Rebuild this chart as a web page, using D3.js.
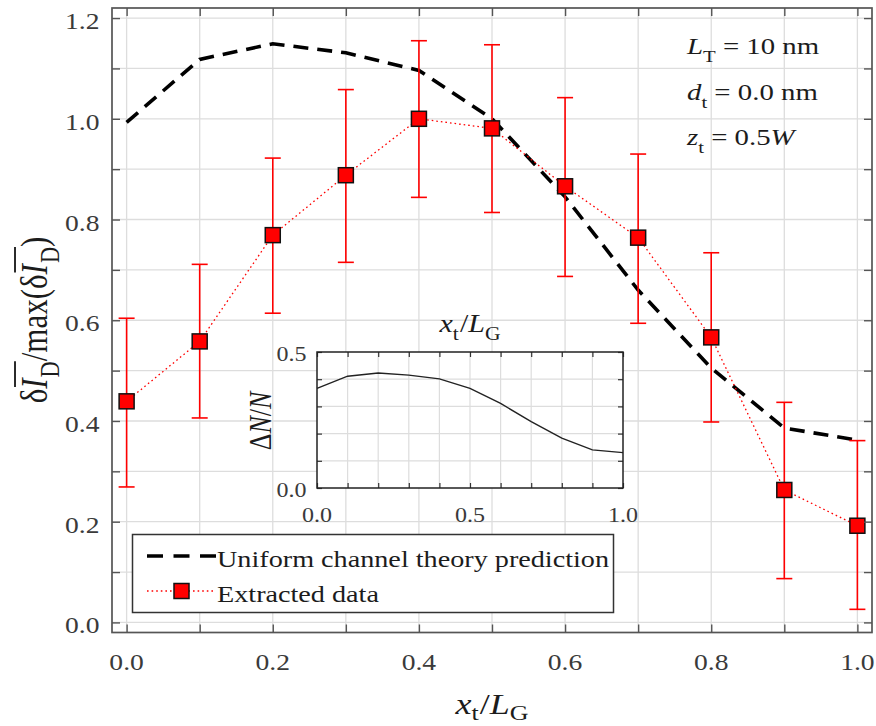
<!DOCTYPE html>
<html>
<head>
<meta charset="utf-8">
<script src="https://cdn.jsdelivr.net/npm/d3@7"></script>
<style>
  html, body { margin: 0; padding: 0; background: #ffffff; }
  svg { display: block; font-family: "Liberation Serif", "Times New Roman", serif; }
</style>
</head>
<body>
<svg id="chart" width="876" height="726"></svg>
<script>
// ---- data ----
const xPositions      = [0.0, 0.1, 0.2, 0.3, 0.4, 0.5, 0.6, 0.7, 0.8, 0.9, 1.0];
const theoryValues    = [0.993, 1.118, 1.149, 1.131, 1.096, 1.000, 0.845, 0.660, 0.505, 0.386, 0.362];
const extractedValues = [0.439, 0.558, 0.769, 0.888, 1.000, 0.981, 0.866, 0.764, 0.566, 0.263, 0.192];
const extractedUpper  = [0.604, 0.711, 0.922, 1.058, 1.155, 1.147, 1.042, 0.930, 0.734, 0.437, 0.361];
const extractedLower  = [0.269, 0.406, 0.614, 0.715, 0.844, 0.814, 0.687, 0.594, 0.398, 0.087, 0.026];
const deltaNValues    = [0.366, 0.411, 0.423, 0.415, 0.401, 0.366, 0.311, 0.244, 0.183, 0.140, 0.130];

const xTickLabels      = ["0.0", "0.2", "0.4", "0.6", "0.8", "1.0"];
const yTickLabels      = ["0.0", "0.2", "0.4", "0.6", "0.8", "1.0", "1.2"];
const insetXTickLabels = ["0.0", "0.5", "1.0"];
const insetYTickLabels = ["0.0", "0.5"];
const legendLabels     = ["Uniform channel theory prediction", "Extracted data"];

// ---- setup ----
const svg = d3.select("#chart");
const SX = 1.2;               // horizontal stretch applied to all lettering
const TXT = "#1c1c1c";
const TICKTXT = "#3a3a3a";
const FRAME = "#555555";
const GRID = "#dddddd";
const RED = "#ff0000";

const x = d3.scaleLinear().domain([-0.02, 1.02]).range([112, 872]);
const y = d3.scaleLinear().domain([-0.02, 1.22]).range([632.5, 8]);

const xMinor = d3.range(0, 11).map(i => i / 10);
const yMinor = d3.range(0, 13).map(i => i / 10);

function plainLabel(parent, px, py, str, size, anchor, fill) {
  return parent.append("text")
    .attr("transform", `translate(${px},${py}) scale(${SX},1)`)
    .attr("text-anchor", anchor)
    .attr("font-size", size)
    .attr("fill", fill || TICKTXT)
    .text(str);
}

// Lays out a run of text pieces (italic / subscript / overbar) left to right.
function richLabel(parent, px, py, parts, size, anchor, rotate, subShift) {
  const outer = parent.append("g")
    .attr("transform", `translate(${px},${py}) scale(${SX},1)` + (rotate ? " rotate(-90)" : ""));
  const g = outer.append("g");
  const shiftK = subShift == null ? 0.32 : subShift;
  let cx = 0;
  const spans = [];
  parts.forEach(p => {
    const fs = p.sub ? size * 0.72 : size;
    const dy = p.sub ? size * shiftK : 0;
    const t = g.append("text")
      .attr("x", cx).attr("y", dy)
      .attr("font-size", fs)
      .attr("font-style", p.it ? "italic" : "normal")
      .attr("fill", TXT)
      .text(p.t);
    const w = t.node().getComputedTextLength();
    spans.push({ x0: cx, x1: cx + w, bar: p.bar });
    cx += w + (p.gap || 0);
  });
  const ids = [...new Set(spans.filter(s => s.bar).map(s => s.bar))];
  ids.forEach(id => {
    const run = spans.filter(s => s.bar === id);
    g.append("line")
      .attr("x1", run[0].x0 + size * 0.06).attr("x2", run[run.length - 1].x1)
      .attr("y1", -size * 0.86).attr("y2", -size * 0.86)
      .attr("stroke", TXT).attr("stroke-width", size * 0.05);
  });
  const shift = anchor === "middle" ? -cx / 2 : anchor === "end" ? -cx : 0;
  g.attr("transform", `translate(${shift},0)`);
  return outer;
}

// ---- grid ----
const grid = svg.append("g");
grid.selectAll(".gx").data(xMinor).join("line")
  .attr("x1", d => x(d)).attr("x2", d => x(d))
  .attr("y1", y.range()[1]).attr("y2", y.range()[0])
  .attr("stroke", GRID).attr("stroke-width", 1.3);
grid.selectAll(".gy").data(yMinor).join("line")
  .attr("x1", x.range()[0]).attr("x2", x.range()[1])
  .attr("y1", d => y(d)).attr("y2", d => y(d))
  .attr("stroke", GRID).attr("stroke-width", 1.3);

// ---- theory curve (dashed) ----
const theoryLine = d3.line().x((d, i) => x(xPositions[i])).y(d => y(d));
svg.append("path")
  .datum(theoryValues)
  .attr("d", theoryLine)
  .attr("fill", "none")
  .attr("stroke", "#000")
  .attr("stroke-width", 3.6)
  .attr("stroke-dasharray", "15,9");

// ---- extracted data: dotted connector, error bars, squares ----
svg.append("path")
  .datum(extractedValues)
  .attr("d", theoryLine)
  .attr("fill", "none")
  .attr("stroke", RED)
  .attr("stroke-width", 1.3)
  .attr("stroke-dasharray", "1.6,3");

const bars = svg.append("g").attr("stroke", RED).attr("stroke-width", 1.6);
xPositions.forEach((xv, i) => {
  const cx = x(xv);
  bars.append("line").attr("x1", cx).attr("x2", cx)
    .attr("y1", y(extractedLower[i])).attr("y2", y(extractedUpper[i]));
  bars.append("line").attr("x1", cx - 8).attr("x2", cx + 8)
    .attr("y1", y(extractedUpper[i])).attr("y2", y(extractedUpper[i]));
  bars.append("line").attr("x1", cx - 8).attr("x2", cx + 8)
    .attr("y1", y(extractedLower[i])).attr("y2", y(extractedLower[i]));
});

const SQ = 15;
svg.append("g").selectAll("rect").data(extractedValues).join("rect")
  .attr("x", (d, i) => x(xPositions[i]) - SQ / 2)
  .attr("y", d => y(d) - SQ / 2)
  .attr("width", SQ).attr("height", SQ)
  .attr("fill", RED).attr("stroke", "#111").attr("stroke-width", 1.5);

// ---- main axes (inward ticks on all four sides) ----
function styleAxis(g) {
  g.select(".domain").remove();
  g.selectAll(".tick line").attr("stroke", FRAME).attr("stroke-width", 1.4);
}
svg.append("g").attr("transform", `translate(0,${y.range()[0]})`)
  .call(d3.axisBottom(x).tickValues(xMinor).tickSizeInner(-8).tickSizeOuter(0).tickFormat(""))
  .call(styleAxis);
svg.append("g").attr("transform", `translate(0,${y.range()[1]})`)
  .call(d3.axisTop(x).tickValues(xMinor).tickSizeInner(-8).tickSizeOuter(0).tickFormat(""))
  .call(styleAxis);
svg.append("g").attr("transform", `translate(${x.range()[0]},0)`)
  .call(d3.axisLeft(y).tickValues(yMinor).tickSizeInner(-8).tickSizeOuter(0).tickFormat(""))
  .call(styleAxis);
svg.append("g").attr("transform", `translate(${x.range()[1]},0)`)
  .call(d3.axisRight(y).tickValues(yMinor).tickSizeInner(-8).tickSizeOuter(0).tickFormat(""))
  .call(styleAxis);

svg.append("rect")
  .attr("x", x.range()[0]).attr("y", y.range()[1])
  .attr("width", x.range()[1] - x.range()[0])
  .attr("height", y.range()[0] - y.range()[1])
  .attr("fill", "none").attr("stroke", FRAME).attr("stroke-width", 1.7);

// tick labels
const tickLayer = svg.append("g");
xTickLabels.forEach(s => plainLabel(tickLayer, x(+s), 669.5, s, 23, "middle"));
yTickLabels.forEach(s => plainLabel(tickLayer, 99.5, y(+s) + 11, s, 23, "end"));

// axis titles
richLabel(svg, 492, 714, [
  { t: "x", it: true }, { t: "t", sub: true, gap: 1 }, { t: "/" },
  { t: "L", it: true }, { t: "G", sub: true }
], 30, "middle", false, 0.2);

richLabel(svg, 47, 320, [
  { t: "δ" }, { t: "I", it: true, bar: 1, gap: 1 }, { t: "D", sub: true, bar: 1 },
  { t: "/" }, { t: "max(" }, { t: "δ" },
  { t: "I", it: true, bar: 2, gap: 1 }, { t: "D", sub: true, bar: 2 }, { t: ")" }
], 31, "middle", true);

// ---- parameter annotations ----
richLabel(svg, 687, 54, [
  { t: "L", it: true }, { t: "T", sub: true }, { t: "\u00A0=\u00A010\u00A0nm" }
], 24, "start");
richLabel(svg, 687, 100, [
  { t: "d", it: true }, { t: "t", sub: true }, { t: "\u00A0=\u00A00.0\u00A0nm" }
], 24, "start");
richLabel(svg, 687, 145, [
  { t: "z", it: true }, { t: "t", sub: true }, { t: "\u00A0=\u00A00.5" }, { t: "W", it: true }
], 24, "start");

// ---- inset: ΔN/N versus x_t/L_G ----
const ix = d3.scaleLinear().domain([0, 1]).range([317, 623]);
const iy = d3.scaleLinear().domain([0, 0.5]).range([488, 352]);
const insetX = d3.range(0, 11).map(i => i / 10);
const insetY = d3.range(0, 6).map(i => i / 10);

const inset = svg.append("g");
inset.append("rect")
  .attr("x", ix.range()[0]).attr("y", iy.range()[1])
  .attr("width", ix.range()[1] - ix.range()[0])
  .attr("height", iy.range()[0] - iy.range()[1])
  .attr("fill", "#fff");
inset.selectAll(".igx").data(insetX.slice(1, -1)).join("line")
  .attr("x1", d => ix(d)).attr("x2", d => ix(d))
  .attr("y1", iy.range()[1]).attr("y2", iy.range()[0])
  .attr("stroke", GRID).attr("stroke-width", 1.2);
inset.selectAll(".igy").data(insetY.slice(1, -1)).join("line")
  .attr("x1", ix.range()[0]).attr("x2", ix.range()[1])
  .attr("y1", d => iy(d)).attr("y2", d => iy(d))
  .attr("stroke", GRID).attr("stroke-width", 1.2);

inset.append("path")
  .datum(deltaNValues)
  .attr("d", d3.line().x((d, i) => ix(xPositions[i])).y(d => iy(d)))
  .attr("fill", "none").attr("stroke", "#222").attr("stroke-width", 1.4);

function styleInsetAxis(g) {
  g.select(".domain").remove();
  g.selectAll(".tick line").attr("stroke", "#333").attr("stroke-width", 1.2);
}
inset.append("g").attr("transform", `translate(0,${iy.range()[0]})`)
  .call(d3.axisBottom(ix).tickValues(insetX).tickSizeInner(-5).tickSizeOuter(0).tickFormat(""))
  .call(styleInsetAxis);
inset.append("g").attr("transform", `translate(0,${iy.range()[1]})`)
  .call(d3.axisTop(ix).tickValues(insetX).tickSizeInner(-5).tickSizeOuter(0).tickFormat(""))
  .call(styleInsetAxis);
inset.append("g").attr("transform", `translate(${ix.range()[0]},0)`)
  .call(d3.axisLeft(iy).tickValues(insetY).tickSizeInner(-5).tickSizeOuter(0).tickFormat(""))
  .call(styleInsetAxis);
inset.append("g").attr("transform", `translate(${ix.range()[1]},0)`)
  .call(d3.axisRight(iy).tickValues(insetY).tickSizeInner(-5).tickSizeOuter(0).tickFormat(""))
  .call(styleInsetAxis);

inset.append("rect")
  .attr("x", ix.range()[0]).attr("y", iy.range()[1])
  .attr("width", ix.range()[1] - ix.range()[0])
  .attr("height", iy.range()[0] - iy.range()[1])
  .attr("fill", "none").attr("stroke", "#222").attr("stroke-width", 1.5);

insetXTickLabels.forEach(s => plainLabel(inset, ix(+s), 521.5, s, 20, "middle"));
insetYTickLabels.forEach(s => plainLabel(inset, 306.5, iy(+s) + 9, s, 20, "end"));

richLabel(inset, 470, 332, [
  { t: "x", it: true }, { t: "t", sub: true, gap: 1 }, { t: "/" },
  { t: "L", it: true }, { t: "G", sub: true }
], 25, "middle");
richLabel(inset, 271, 421, [
  { t: "Δ" }, { t: "N", it: true }, { t: "/" }, { t: "N", it: true }
], 26, "middle", true);

// ---- legend ----
const legend = svg.append("g");
legend.append("rect")
  .attr("x", 132.5).attr("y", 534.5).attr("width", 481).attr("height", 78)
  .attr("fill", "#fff").attr("stroke", "#333").attr("stroke-width", 1.5);

const rowY = [556, 591];
legend.append("line")
  .attr("x1", 147).attr("x2", 216).attr("y1", rowY[0]).attr("y2", rowY[0])
  .attr("stroke", "#000").attr("stroke-width", 3.6).attr("stroke-dasharray", "16,10.5");
legend.append("line")
  .attr("x1", 147).attr("x2", 216).attr("y1", rowY[1]).attr("y2", rowY[1])
  .attr("stroke", RED).attr("stroke-width", 1.3).attr("stroke-dasharray", "1.6,3");
legend.append("rect")
  .attr("x", 181.5 - SQ / 2).attr("y", rowY[1] - SQ / 2).attr("width", SQ).attr("height", SQ)
  .attr("fill", RED).attr("stroke", "#111").attr("stroke-width", 1.5);

legendLabels.forEach((s, i) => plainLabel(legend, 217, rowY[i] + 10.5, s, 23.5, "start", TXT));
</script>
</body>
</html>
